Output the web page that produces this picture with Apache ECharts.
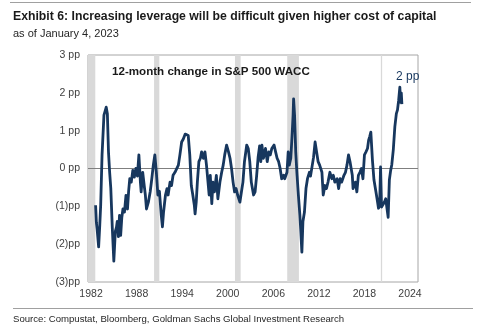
<!DOCTYPE html>
<html><head><meta charset="utf-8">
<script src="https://cdn.jsdelivr.net/npm/echarts@6/dist/echarts.min.js"></script>
<style>html,body{margin:0;padding:0;background:#fff}#c{width:500px;height:330px}</style>
</head><body><div id="c"></div>
<script>
// decimal years (monthly-ish readings) and 12-month change in S&P 500 WACC (pp)
const years = [1982.6,1982.7,1982.8,1983.0,1983.15,1983.27,1983.45,1983.7,1983.9,1984.0,1984.15,1984.3,1984.45,1984.6,1984.8,1985.0,1985.2,1985.35,1985.45,1985.6,1985.75,1985.9,1986.05,1986.2,1986.4,1986.6,1986.8,1986.95,1987.1,1987.3,1987.5,1987.7,1987.9,1988.1,1988.3,1988.5,1988.6,1988.8,1989.0,1989.15,1989.3,1989.55,1989.8,1990.0,1990.2,1990.4,1990.6,1990.8,1991.0,1991.25,1991.4,1991.55,1991.8,1992.0,1992.15,1992.4,1992.6,1992.8,1993.05,1993.3,1993.5,1993.7,1993.93,1994.15,1994.4,1994.6,1994.8,1995.0,1995.2,1995.4,1995.6,1995.7,1995.85,1996.0,1996.2,1996.4,1996.56,1996.8,1997.0,1997.2,1997.4,1997.55,1997.7,1997.9,1998.05,1998.25,1998.5,1998.7,1998.97,1999.2,1999.4,1999.6,1999.85,2000.1,2000.3,2000.5,2000.7,2000.9,2001.1,2001.3,2001.6,2001.8,2002.0,2002.2,2002.5,2002.7,2002.9,2003.1,2003.4,2003.6,2003.8,2004.0,2004.2,2004.35,2004.5,2004.7,2004.97,2005.2,2005.4,2005.6,2005.8,2006.1,2006.3,2006.5,2006.7,2006.9,2007.1,2007.35,2007.5,2007.8,2007.96,2008.1,2008.3,2008.45,2008.6,2008.67,2008.8,2008.95,2009.1,2009.3,2009.5,2009.6,2009.76,2009.9,2010.1,2010.3,2010.5,2010.75,2010.9,2011.1,2011.3,2011.5,2011.7,2011.9,2012.1,2012.4,2012.57,2012.8,2013.0,2013.2,2013.45,2013.7,2013.9,2014.1,2014.4,2014.6,2014.8,2015.0,2015.3,2015.5,2015.7,2015.9,2016.1,2016.4,2016.5,2016.8,2017.0,2017.2,2017.4,2017.6,2017.8,2018.0,2018.2,2018.4,2018.55,2018.7,2018.84,2019.05,2019.25,2019.5,2019.7,2019.85,2020.0,2020.12,2020.25,2020.4,2020.6,2020.8,2020.98,2021.12,2021.28,2021.45,2021.6,2021.8,2022.0,2022.2,2022.35,2022.5,2022.66,2022.75,2022.85,2022.93];
const waccChange = [-0.97,-1.42,-1.6,-2.07,-1.5,-0.97,0.36,1.41,1.55,1.62,1.45,0.43,-0.1,-0.52,-1.57,-2.45,-1.66,-1.55,-1.4,-1.8,-1.24,-1.77,-1.3,-1.07,-1.15,-0.71,-1.07,-0.6,-0.27,-0.36,-0.05,-0.23,0.0,-0.2,0.36,-0.36,-0.62,-0.1,-0.45,-0.7,-1.07,-0.89,-0.6,-0.27,0.09,0.36,-0.1,-0.7,-0.6,-1.24,-1.54,-1.15,-0.7,-0.53,-0.7,-0.36,-0.45,-0.18,-0.1,-0.06,0.09,0.36,0.7,0.78,0.91,0.96,0.87,0.36,-0.45,-0.7,-0.97,-1.2,-0.89,-0.36,0.18,0.27,0.44,0.27,0.44,0.09,-0.36,-0.7,-0.18,-0.93,-0.36,-0.62,-0.18,-0.8,-0.36,-0.1,0.09,0.36,0.62,0.44,0.27,0.0,-0.36,-0.62,-0.53,-0.7,-0.89,-0.62,-0.36,0.18,0.62,0.53,0.18,-0.36,-0.7,-0.62,-0.2,0.3,0.6,0.18,0.62,0.27,0.53,0.18,0.44,0.36,0.53,0.62,0.44,0.27,0.18,0.0,-0.27,-0.18,-0.27,-0.1,0.44,0.09,0.27,0.8,1.4,1.84,1.4,0.44,-0.1,-0.7,-1.24,-1.59,-2.21,-1.4,-1.15,-0.53,-0.27,-0.1,-0.2,0.05,0.3,0.7,0.44,0.18,0.09,-0.1,-0.7,-0.45,-0.53,-0.36,-0.1,-0.27,-0.18,-0.36,-0.27,-0.53,-0.27,-0.36,-0.18,-0.1,0.09,0.36,0.18,-0.18,-0.53,-0.36,-0.62,-0.18,-0.1,0.0,-0.27,0.36,0.44,0.53,0.75,0.85,0.96,0.22,-0.3,-0.6,-0.85,-1.05,-0.97,0.04,-1.02,-0.97,-0.9,-0.8,-0.75,-1.29,-0.3,-0.05,0.1,0.5,1.1,1.45,1.55,1.8,2.15,1.75,2.0,1.7];
// recession periods (start, end) in decimal years
const recessionStart = [1981.6, 1990.3, 2000.95, 2007.83, 2020.16];
const recessionEnd   = [1982.56, 1990.99, 2001.7, 2009.37, 2020.33];
const xTickLabels = [1982, 1988, 1994, 2000, 2006, 2012, 2018, 2024];

const chart = echarts.init(document.getElementById('c'), null, {renderer: 'canvas'});
const FONT = '"Liberation Sans", Arial, sans-serif';
const seriesData = years.map((y, i) => [y, waccChange[i]]);
const areas = recessionStart.map((s, i) => [{xAxis: s}, {xAxis: recessionEnd[i]}]);

chart.setOption({
  animation: false,
  backgroundColor: '#fff',
  grid: {left: 88, right: 82, top: 55, bottom: 48, show: true, borderColor: '#a6a6a6', borderWidth: 1, backgroundColor: 'transparent'},
  xAxis: {
    type: 'value', min: 1981.6, max: 2025.05,
    splitLine: {show: false},
    axisLine: {show: false}, axisTick: {show: false},
    axisLabel: {customValues: xTickLabels, color: '#404040', fontSize: 10.5, fontFamily: FONT, margin: 7, formatter: v => String(Math.round(v))}
  },
  yAxis: {
    type: 'value', min: -3, max: 3, interval: 1,
    splitLine: {show: false},
    axisLine: {show: false}, axisTick: {show: false},
    axisLabel: {color: '#404040', fontSize: 10.5, fontFamily: FONT, margin: 8,
      formatter: v => v === 0 ? '0 pp' : (v > 0 ? v + ' pp' : '(' + (-v) + ')pp')}
  },
  series: [{
    type: 'line', data: seriesData, showSymbol: false, symbol: 'none',
    lineStyle: {color: '#17375e', width: 2.8, join: 'round'},
    z: 5,
    markArea: {silent: true, itemStyle: {color: '#d9d9d9'}, data: areas, z: 1},
    markLine: {silent: true, symbol: 'none', label: {show: false},
      lineStyle: {color: '#7f7f7f', width: 1, type: 'solid'}, data: [{yAxis: 0}]}
  }],
  graphic: [
    {type: 'line', shape: {x1: 10, y1: 2.5, x2: 471, y2: 2.5}, style: {stroke: '#a0a0a0', lineWidth: 1}},
    {type: 'text', left: 13, top: 11, style: {text: 'Exhibit 6: Increasing leverage will be difficult given higher cost of capital', font: 'bold 12.25px ' + FONT, fill: '#1a1a1a'}},
    {type: 'text', left: 13, top: 28, style: {text: 'as of January 4, 2023', font: '11px ' + FONT, fill: '#262626'}},
    {type: 'text', left: 112, top: 66, style: {text: '12-month change in S&P 500 WACC', font: 'bold 11.6px ' + FONT, fill: '#1a1a1a'}, z: 10},
    {type: 'text', left: 396, top: 71, style: {text: '2 pp', font: '12px ' + FONT, fill: '#17375e'}, z: 10},
    {type: 'line', shape: {x1: 13, y1: 308.5, x2: 473, y2: 308.5}, style: {stroke: '#a0a0a0', lineWidth: 1}},
    {type: 'text', left: 13, top: 314, style: {text: 'Source: Compustat, Bloomberg, Goldman Sachs Global Investment Research', font: '9.6px ' + FONT, fill: '#262626'}}
  ]
});
</script></body></html>
